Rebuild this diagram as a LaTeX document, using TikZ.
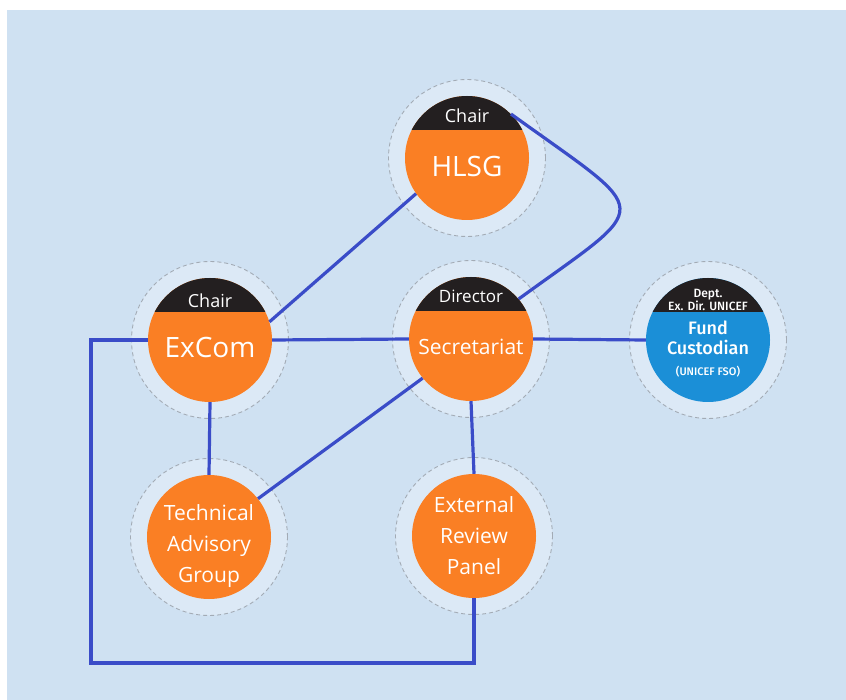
\documentclass[tikz,border=0pt]{standalone}
\usepackage{fontspec}
\setmainfont{Open Sans}
\newfontfamily\dinfont{Fira Sans}[UprightFont=* Medium]
\definecolor{bgblue}{HTML}{CFE1F2}
\definecolor{ringfill}{HTML}{DCE9F6}
\definecolor{ringgray}{HTML}{A3ABB5}
\definecolor{bodyorange}{HTML}{FA7F24}
\definecolor{fundblue}{HTML}{1B8FD7}
\definecolor{capblack}{HTML}{231F20}
\definecolor{linkblue}{HTML}{3A4CC8}
\tikzset{
  ring/.style={circle,draw=ringgray,dash pattern=on 4pt off 3pt,fill=ringfill,minimum size=157pt,inner sep=0pt,line width=0.9pt},
  body/.style={circle,fill=bodyorange,minimum size=124pt,inner sep=0pt},
  link/.style={draw=linkblue,line width=3.2pt},
  bodytxt/.style={text=white,align=center,font=\fontsize{21}{31}\selectfont},
  captxt/.style={text=white,font=\fontsize{17}{20}\selectfont},
  fundtxt/.style={text=white,align=center,inner sep=0pt,font=\dinfont}
}
\begin{document}
\begin{tikzpicture}[x=1pt,y=-1pt]
  \fill[white] (0,0) rectangle (846,700);
  \fill[bgblue] (7,10) rectangle (846,700);
  \useasboundingbox (0,0) rectangle (846,700);

  % dashed halos
  \foreach \n/\p in {hlsg/{(467,158)},excom/{(210,340)},secr/{(471,339)},
                     fund/{(708,340)},tag/{(209,537)},erp/{(474,536)}}
    \node[ring] (\n-ring) at \p {};

  % circles
  \node[body] (hlsg) at (hlsg-ring) {};
  \node[body] (excom) at (excom-ring) {};
  \node[body] (secr) at (secr-ring) {};
  \node[body,fill=fundblue] (fund) at (fund-ring) {};
  \node[body] (tag) at (tag-ring) {};
  \node[body] (erp) at (erp-ring) {};

  % black caps on top
  \foreach \n in {hlsg,excom,secr,fund}{
    \begin{scope}
      \clip (\n) circle[radius=62pt];
      \fill[capblack] ([xshift=-70pt,yshift=70pt]\n.center) rectangle ([xshift=70pt,yshift=28pt]\n.center);
    \end{scope}
  }

  % labels
  \node[captxt] (hlsg-cap) at ([yshift=42pt]hlsg.center) {\fontsize{18}{20}\selectfont Chair};
  \node[bodytxt] (hlsg-t) at ([yshift=-9pt]hlsg.center) {\fontsize{28}{30}\selectfont HLSG};
  \node[captxt] (excom-cap) at ([yshift=39pt]excom.center) {\fontsize{18}{20}\selectfont Chair};
  \node[bodytxt] (excom-t) at ([yshift=-7pt]excom.center) {\fontsize{28}{30}\selectfont ExCom};
  \node[captxt] (secr-cap) at ([yshift=43pt]secr.center) {Director};
  \node[bodytxt] (secr-t) at ([yshift=-8pt]secr.center) {Secretariat};
  \node[fundtxt,font=\dinfont\fontsize{12}{13}\selectfont] (fund-cap)
    at ([yshift=40pt]fund.center) {Dept.\\Ex. Dir. UNICEF};
  \node[fundtxt,font=\dinfont\fontsize{18}{20}\selectfont] (fund-t)
    at ([yshift=2pt]fund.center) {Fund\\Custodian};
  \node[fundtxt,font=\dinfont\fontsize{11}{12}\selectfont] (fund-sub)
    at ([yshift=-32pt]fund.center) {(UNICEF FSO)};
  \node[bodytxt] (tag-t) at ([yshift=-9pt]tag.center) {Technical\\Advisory\\Group};
  \node[bodytxt] (erp-t) at (erp) {External\\Review\\Panel};

  % connectors
  \coordinate (corner) at (91,663);
  \draw[link] (hlsg.215) -- (excom.17);
  \draw[link] (hlsg.45) .. controls (655,218) and (655,200) .. (secr.40);
  \draw[link] (excom.east) -- (secr.west);
  \draw[link] (secr.east) -- (fund.west);
  \draw[link] (excom.south) -- (tag.north);
  \draw[link] (secr.219) -- (tag.38);
  \draw[link] (secr.south) -- (erp.north);
  \draw[link] (excom.west) -| (corner) -| (erp.south);
\end{tikzpicture}
\end{document}
